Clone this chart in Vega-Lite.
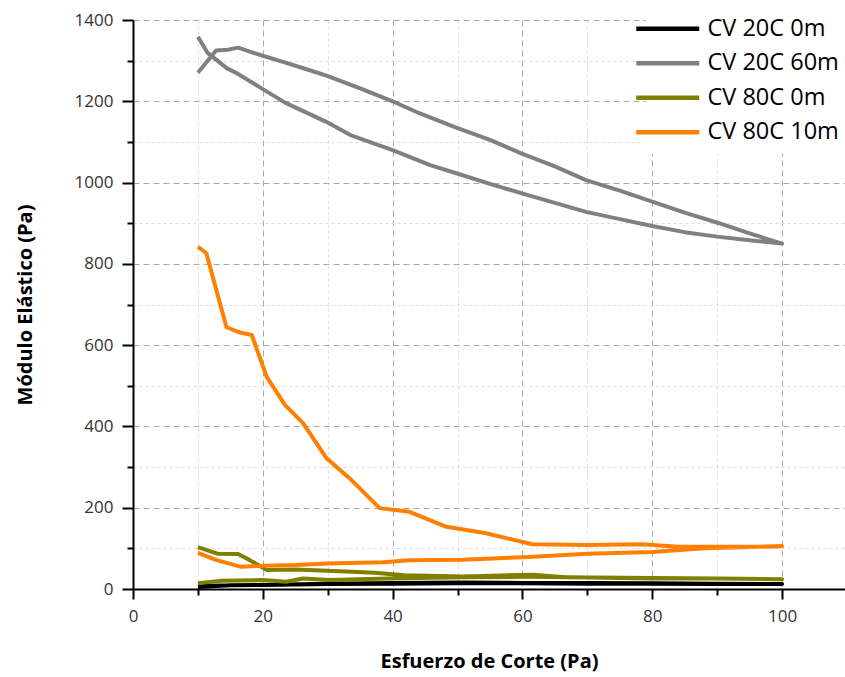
{
  "$schema": "https://vega.github.io/schema/vega-lite/v6.json",
  "width": 712,
  "height": 569,
  "autosize": {"type": "none"},
  "padding": {"left": 133, "top": 20, "right": 0, "bottom": 88},
  "background": "white",
  "config": {
    "view": {"stroke": null},
    "font": "Open Sans"
  },
  "data": {
    "values": [
      {"s": "CV 20C 0m", "i": 1, "x": 10, "y": 5},
      {"s": "CV 20C 0m", "i": 2, "x": 12, "y": 7},
      {"s": "CV 20C 0m", "i": 3, "x": 15, "y": 9},
      {"s": "CV 20C 0m", "i": 4, "x": 20, "y": 10},
      {"s": "CV 20C 0m", "i": 5, "x": 25, "y": 11},
      {"s": "CV 20C 0m", "i": 6, "x": 30, "y": 12},
      {"s": "CV 20C 0m", "i": 7, "x": 40, "y": 13},
      {"s": "CV 20C 0m", "i": 8, "x": 50, "y": 14},
      {"s": "CV 20C 0m", "i": 9, "x": 60, "y": 14},
      {"s": "CV 20C 0m", "i": 10, "x": 70, "y": 13},
      {"s": "CV 20C 0m", "i": 11, "x": 80, "y": 13},
      {"s": "CV 20C 0m", "i": 12, "x": 90, "y": 12},
      {"s": "CV 20C 0m", "i": 13, "x": 100, "y": 12},
      {"s": "CV 20C 0m", "i": 14, "x": 90, "y": 13},
      {"s": "CV 20C 0m", "i": 15, "x": 80, "y": 14},
      {"s": "CV 20C 0m", "i": 16, "x": 70, "y": 15},
      {"s": "CV 20C 0m", "i": 17, "x": 60, "y": 15},
      {"s": "CV 20C 0m", "i": 18, "x": 50, "y": 16},
      {"s": "CV 20C 0m", "i": 19, "x": 40, "y": 15},
      {"s": "CV 20C 0m", "i": 20, "x": 30, "y": 13},
      {"s": "CV 20C 0m", "i": 21, "x": 20, "y": 10},
      {"s": "CV 20C 0m", "i": 22, "x": 15, "y": 9},
      {"s": "CV 20C 0m", "i": 23, "x": 12, "y": 8},
      {"s": "CV 20C 0m", "i": 24, "x": 10, "y": 7},

      {"s": "CV 20C 60m", "i": 1, "x": 10, "y": 1270},
      {"s": "CV 20C 60m", "i": 2, "x": 12.8, "y": 1325},
      {"s": "CV 20C 60m", "i": 3, "x": 14.6, "y": 1327},
      {"s": "CV 20C 60m", "i": 4, "x": 16.2, "y": 1332},
      {"s": "CV 20C 60m", "i": 5, "x": 18, "y": 1322},
      {"s": "CV 20C 60m", "i": 6, "x": 20, "y": 1312},
      {"s": "CV 20C 60m", "i": 7, "x": 23.1, "y": 1297},
      {"s": "CV 20C 60m", "i": 8, "x": 26.5, "y": 1280},
      {"s": "CV 20C 60m", "i": 9, "x": 29.8, "y": 1263},
      {"s": "CV 20C 60m", "i": 10, "x": 35, "y": 1232},
      {"s": "CV 20C 60m", "i": 11, "x": 40, "y": 1200},
      {"s": "CV 20C 60m", "i": 12, "x": 44.2, "y": 1170},
      {"s": "CV 20C 60m", "i": 13, "x": 49.8, "y": 1135},
      {"s": "CV 20C 60m", "i": 14, "x": 55, "y": 1105},
      {"s": "CV 20C 60m", "i": 15, "x": 59.8, "y": 1072},
      {"s": "CV 20C 60m", "i": 16, "x": 65, "y": 1040},
      {"s": "CV 20C 60m", "i": 17, "x": 69.8, "y": 1006},
      {"s": "CV 20C 60m", "i": 18, "x": 75, "y": 980},
      {"s": "CV 20C 60m", "i": 19, "x": 80, "y": 953},
      {"s": "CV 20C 60m", "i": 20, "x": 85, "y": 926},
      {"s": "CV 20C 60m", "i": 21, "x": 90.3, "y": 900},
      {"s": "CV 20C 60m", "i": 22, "x": 95, "y": 875},
      {"s": "CV 20C 60m", "i": 23, "x": 100, "y": 850},
      {"s": "CV 20C 60m", "i": 24, "x": 95, "y": 858},
      {"s": "CV 20C 60m", "i": 25, "x": 90, "y": 867},
      {"s": "CV 20C 60m", "i": 26, "x": 85, "y": 878},
      {"s": "CV 20C 60m", "i": 27, "x": 80, "y": 893},
      {"s": "CV 20C 60m", "i": 28, "x": 75, "y": 910},
      {"s": "CV 20C 60m", "i": 29, "x": 69.8, "y": 928},
      {"s": "CV 20C 60m", "i": 30, "x": 65, "y": 950},
      {"s": "CV 20C 60m", "i": 31, "x": 59.8, "y": 974},
      {"s": "CV 20C 60m", "i": 32, "x": 55, "y": 997},
      {"s": "CV 20C 60m", "i": 33, "x": 49.8, "y": 1023},
      {"s": "CV 20C 60m", "i": 34, "x": 45.8, "y": 1043},
      {"s": "CV 20C 60m", "i": 35, "x": 40, "y": 1080},
      {"s": "CV 20C 60m", "i": 36, "x": 33.5, "y": 1117},
      {"s": "CV 20C 60m", "i": 37, "x": 29.7, "y": 1150},
      {"s": "CV 20C 60m", "i": 38, "x": 23.5, "y": 1196},
      {"s": "CV 20C 60m", "i": 39, "x": 20, "y": 1230},
      {"s": "CV 20C 60m", "i": 40, "x": 16, "y": 1269},
      {"s": "CV 20C 60m", "i": 41, "x": 14.5, "y": 1281},
      {"s": "CV 20C 60m", "i": 42, "x": 11.5, "y": 1319},
      {"s": "CV 20C 60m", "i": 43, "x": 10, "y": 1359},

      {"s": "CV 80C 0m", "i": 1, "x": 10, "y": 14},
      {"s": "CV 80C 0m", "i": 2, "x": 13.4, "y": 20},
      {"s": "CV 80C 0m", "i": 3, "x": 20, "y": 22},
      {"s": "CV 80C 0m", "i": 4, "x": 23.6, "y": 18},
      {"s": "CV 80C 0m", "i": 5, "x": 26.2, "y": 26},
      {"s": "CV 80C 0m", "i": 6, "x": 30.3, "y": 22},
      {"s": "CV 80C 0m", "i": 7, "x": 39.5, "y": 26},
      {"s": "CV 80C 0m", "i": 8, "x": 50.8, "y": 29},
      {"s": "CV 80C 0m", "i": 9, "x": 61, "y": 30},
      {"s": "CV 80C 0m", "i": 10, "x": 70, "y": 28},
      {"s": "CV 80C 0m", "i": 11, "x": 80, "y": 26},
      {"s": "CV 80C 0m", "i": 12, "x": 90, "y": 26},
      {"s": "CV 80C 0m", "i": 13, "x": 100, "y": 24},
      {"s": "CV 80C 0m", "i": 14, "x": 90, "y": 26},
      {"s": "CV 80C 0m", "i": 15, "x": 80, "y": 27},
      {"s": "CV 80C 0m", "i": 16, "x": 66.7, "y": 29},
      {"s": "CV 80C 0m", "i": 17, "x": 61.5, "y": 35},
      {"s": "CV 80C 0m", "i": 18, "x": 50.8, "y": 31},
      {"s": "CV 80C 0m", "i": 19, "x": 41.8, "y": 34},
      {"s": "CV 80C 0m", "i": 20, "x": 37.2, "y": 40},
      {"s": "CV 80C 0m", "i": 21, "x": 30, "y": 45},
      {"s": "CV 80C 0m", "i": 22, "x": 25, "y": 48},
      {"s": "CV 80C 0m", "i": 23, "x": 20.6, "y": 47},
      {"s": "CV 80C 0m", "i": 24, "x": 18, "y": 71},
      {"s": "CV 80C 0m", "i": 25, "x": 16.2, "y": 86},
      {"s": "CV 80C 0m", "i": 26, "x": 13, "y": 87},
      {"s": "CV 80C 0m", "i": 27, "x": 10, "y": 103},

      {"s": "CV 80C 10m", "i": 1, "x": 10, "y": 89},
      {"s": "CV 80C 10m", "i": 2, "x": 12.9, "y": 71},
      {"s": "CV 80C 10m", "i": 3, "x": 16.5, "y": 55},
      {"s": "CV 80C 10m", "i": 4, "x": 20, "y": 57},
      {"s": "CV 80C 10m", "i": 5, "x": 25, "y": 59},
      {"s": "CV 80C 10m", "i": 6, "x": 30, "y": 63},
      {"s": "CV 80C 10m", "i": 7, "x": 38.5, "y": 66},
      {"s": "CV 80C 10m", "i": 8, "x": 42.6, "y": 71},
      {"s": "CV 80C 10m", "i": 9, "x": 50.8, "y": 72},
      {"s": "CV 80C 10m", "i": 10, "x": 61, "y": 79},
      {"s": "CV 80C 10m", "i": 11, "x": 70, "y": 87},
      {"s": "CV 80C 10m", "i": 12, "x": 80, "y": 91},
      {"s": "CV 80C 10m", "i": 13, "x": 88, "y": 100},
      {"s": "CV 80C 10m", "i": 14, "x": 100, "y": 105},
      {"s": "CV 80C 10m", "i": 15, "x": 84, "y": 104},
      {"s": "CV 80C 10m", "i": 16, "x": 78.5, "y": 110},
      {"s": "CV 80C 10m", "i": 17, "x": 70, "y": 108},
      {"s": "CV 80C 10m", "i": 18, "x": 61.5, "y": 110},
      {"s": "CV 80C 10m", "i": 19, "x": 54.4, "y": 137},
      {"s": "CV 80C 10m", "i": 20, "x": 48.3, "y": 153},
      {"s": "CV 80C 10m", "i": 21, "x": 42.6, "y": 190},
      {"s": "CV 80C 10m", "i": 22, "x": 38, "y": 199},
      {"s": "CV 80C 10m", "i": 23, "x": 33.4, "y": 272},
      {"s": "CV 80C 10m", "i": 24, "x": 29.8, "y": 322},
      {"s": "CV 80C 10m", "i": 25, "x": 26.2, "y": 408},
      {"s": "CV 80C 10m", "i": 26, "x": 23.4, "y": 453},
      {"s": "CV 80C 10m", "i": 27, "x": 20.6, "y": 522},
      {"s": "CV 80C 10m", "i": 28, "x": 18.3, "y": 625},
      {"s": "CV 80C 10m", "i": 29, "x": 16.5, "y": 631},
      {"s": "CV 80C 10m", "i": 30, "x": 14.4, "y": 644},
      {"s": "CV 80C 10m", "i": 31, "x": 11.3, "y": 826},
      {"s": "CV 80C 10m", "i": 32, "x": 10, "y": 842}
    ]
  },
  "mark": {"type": "line", "strokeWidth": 4, "strokeJoin": "round", "clip": true},
  "encoding": {
    "x": {
      "field": "x",
      "type": "quantitative",
      "scale": {"domain": [0, 109.7], "nice": false, "zero": false},
      "axis": {
        "title": "Esfuerzo de Corte (Pa)",
        "values": [0, 10, 20, 30, 40, 50, 60, 70, 80, 90, 100],
        "labelExpr": "datum.value % 20 === 0 ? datum.label : ''",
        "labelFontSize": 17,
        "labelColor": "#333333",
        "labelPadding": 9,
        "labelFlush": false,
        "domainColor": "black",
        "domainWidth": 2,
        "tickColor": "black",
        "tickWidth": 2,
        "tickSize": {"condition": {"test": "datum.value % 20 === 0", "value": 10}, "value": 6},
        "grid": true,
        "gridColor": {"condition": {"test": "datum.value % 20 === 0", "value": "#aaaaaa"}, "value": "#dddddd"},
        "gridDash": {"condition": {"test": "datum.value % 20 === 0", "value": [6, 4]}, "value": [3, 3]},
        "gridWidth": 1,
        "titleFontSize": 20,
        "titleFontWeight": "bold",
        "titleColor": "black",
        "titlePadding": 27
      }
    },
    "y": {
      "field": "y",
      "type": "quantitative",
      "scale": {"domain": [0, 1400], "nice": false},
      "axis": {
        "title": "Módulo Elástico (Pa)",
        "values": [0, 100, 200, 300, 400, 500, 600, 700, 800, 900, 1000, 1100, 1200, 1300, 1400],
        "labelExpr": "datum.value % 200 === 0 ? datum.label : ''",
        "format": "d",
        "labelFontSize": 17,
        "labelColor": "#333333",
        "labelPadding": 9,
        "labelFlush": false,
        "domainColor": "black",
        "domainWidth": 2,
        "tickColor": "black",
        "tickWidth": 2,
        "tickSize": {"condition": {"test": "datum.value % 200 === 0", "value": 11}, "value": 6},
        "grid": true,
        "gridColor": {"condition": {"test": "datum.value % 200 === 0", "value": "#aaaaaa"}, "value": "#dddddd"},
        "gridDash": {"condition": {"test": "datum.value % 200 === 0", "value": [6, 4]}, "value": [3, 3]},
        "gridWidth": 1,
        "titleFontSize": 20,
        "titleFontWeight": "bold",
        "titleColor": "black",
        "titlePadding": 39
      }
    },
    "color": {
      "field": "s",
      "type": "nominal",
      "scale": {
        "domain": ["CV 20C 0m", "CV 20C 60m", "CV 80C 0m", "CV 80C 10m"],
        "range": ["#000000", "#808080", "#7f7f00", "#ff8000"]
      },
      "legend": {
        "title": null,
        "orient": "none",
        "legendX": 513,
        "legendY": -13,
        "fillColor": "white",
        "padding": 10,
        "symbolType": "M-8,0H8",
        "symbolSize": 62,
        "symbolStrokeWidth": 4.5,
        "labelFontSize": 23.5,
        "labelColor": "black",
        "labelOffset": 28,
        "rowPadding": 9.5
      }
    },
    "order": {"field": "i", "type": "quantitative"}
  }
}
